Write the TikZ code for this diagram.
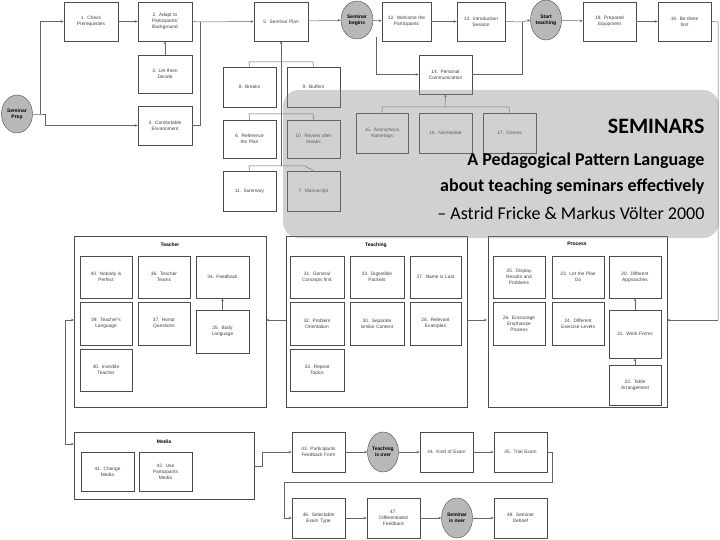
\documentclass[tikz,border=0pt]{standalone}
\usepackage{fontspec}
\setmainfont{Liberation Sans}
\newfontfamily\titlefont{Carlito}
\usetikzlibrary{arrows.meta,shapes.geometric}
\tikzset{
 box/.style={draw=black!70,line width=0.6pt,fill=white,align=center,text=black!75,font=\fontsize{4.8}{6}\selectfont,inner sep=1pt},
 grp/.style={draw=black!70,line width=0.6pt,fill=white},
 circ/.style={draw=black!70,ellipse,fill=black!28,align=center,font=\bfseries\fontsize{5}{6}\selectfont,inner sep=0pt},
 con/.style={draw=black!60,line width=0.5pt},
 arr/.style={con,-{Stealth[length=3pt,width=2.5pt]}},
 glab/.style={font=\bfseries\fontsize{5}{6}\selectfont}
}
\newcommand{\bx}[6]{\node[box,minimum width={(#4-#2)*1pt},minimum height={(#5-#3)*1pt},text width={(#4-#2-4)*1pt}] (#1) at ({(#2+#4)/2},{(#3+#5)/2}) {#6};}
\begin{document}
\begin{tikzpicture}[x=1pt,y=-1pt]
\useasboundingbox (0,0) rectangle (720,540);
\fill[white] (0,0) rectangle (720,540);
% top
\bx{b1}{64}{2}{118}{41}{1. Check\\Prerequisites}
\bx{b2}{138}{2}{192}{41}{2. Adapt to\\Participants'\\Background}
\bx{b3}{138}{55}{192}{93}{3. Let them\\Decide}
\bx{b4}{138}{106}{192}{145}{4. Comfortable\\Environment}
\bx{b5}{254}{2}{308}{41}{5. Seminar Plan}
\node[circ,minimum width=31pt,minimum height=38pt] (prep) at (17,114) {Seminar\\Prep};
\node[circ,minimum width=32pt,minimum height=38pt] (beg) at (357,20) {Seminar\\begins};
\bx{b8}{223}{67}{276}{107}{8. Breaks}
\bx{b9}{287}{67}{340}{107}{9. Buffers}
\bx{b6}{223}{120}{276}{158}{6. Reference\\the Plan}
\bx{b10}{287}{120}{340}{158}{10. Review after\\breaks}
\bx{b11}{223}{171}{276}{211}{11. Summary}
\bx{b7}{287}{171}{340}{211}{7. Manuscript}
\bx{b12}{382}{2}{431}{41}{12. Welcome the\\Participants}
\bx{b13}{457}{2}{505}{41}{13. Introduction\\Session}
\node[circ,minimum width=31pt,minimum height=40pt] (start) at (546,20) {Start\\teaching};
\bx{b18}{583}{2}{636}{41}{18. Prepared\\Equipment}
\bx{b19}{658}{2}{711}{41}{19. Be there\\first}
\bx{b14}{419}{55}{472}{94}{14. Personal\\Communication}
\bx{b15}{356}{113}{408}{153}{15. Anonymous\\Nametags}
\bx{b16}{419}{113}{472}{153}{16. Nameplate}
\bx{b17}{483}{113}{536}{153}{17. Games}
% top connectors
\draw[con] (prep.east) -- (40,114) -- (45,114);
\draw[arr] (40,114) |- (b1.west);
\draw[arr] (45,114) |- (b4.west);
\draw[arr] (b1) -- (b2);
\draw[con] (b2.east) -- (200,22);
\draw[con] (b4.east) -| (200,22);
\draw[arr] (200,22) -- (b5.west);
\draw[arr] (b3) -- (b2);
\draw[arr] (b5) -- (beg);
\draw[arr] (beg) -- (b12);
\draw[arr] (b12) -- (b13);
\draw[con] (b13.east) -- (522,22);
\draw[arr] (522,22) -- (start.west);
\draw[arr] (376,37) |- (b14.west);
\draw[con] (b14.east) -| (522,22);
\draw[arr] (start) -- (b18);
\draw[arr] (b18) -- (b19);
\draw[con] (b8.north) -- (249,62) -- (313,62) -- (b9.north);
\draw[con] (b6.north) -- (249,114) -- (313,114) -- (b10.north);
\draw[con] (b11.north) -- (249,166) -- (305,166) -- (b7.north);
\draw[arr] (281,166) -- (281,41);
\draw[con] (b15.north) -- (382,107) -- (509,107) -- (b17.north);
\draw[arr] (445,107) -- (b14.south);
% groups
\node[grp,minimum width=192pt,minimum height=171pt] (teacher) at (170,321.5) {};
\node[glab,anchor=north] at (170,239) {Teacher};
\node[grp,minimum width=181pt,minimum height=171pt] (teaching) at (376.5,321.5) {};
\node[glab,anchor=north] at (376,239) {Teaching};
\node[grp,minimum width=179pt,minimum height=171pt] (process) at (577.5,321.5) {};
\node[glab,anchor=north] at (577,239) {Process};
\bx{b40}{80}{256}{132}{298}{40. Nobody is\\Perfect}
\bx{b36}{138}{256}{190}{298}{36. Teacher\\Teams}
\bx{b34}{196}{256}{249}{298}{34. Feedback}
\bx{b39}{80}{302}{132}{345}{39. Teacher's\\Language}
\bx{b37}{138}{302}{190}{345}{37. Honor\\Questions}
\bx{b35}{196}{310}{249}{353}{35. Body\\Language}
\bx{b41}{80}{349}{132}{391}{40. Invisible\\Teacher}
\bx{b31}{290}{256}{344}{298}{31. General\\Concepts first}
\bx{b33}{350}{256}{404}{298}{33. Digestible\\Packets}
\bx{b27}{410}{256}{461}{298}{27. Name is Last}
\bx{b32}{290}{302}{344}{345}{32. Problem\\Orientation}
\bx{b30}{350}{302}{404}{345}{30. Separate\\similar Content}
\bx{b28}{410}{302}{461}{345}{28. Relevant\\Examples}
\bx{b29}{290}{349}{344}{391}{33. Repeat\\Topics}
\bx{b25}{493}{256}{545}{298}{25. Display\\Results and\\Problems}
\bx{b23}{552}{256}{604}{298}{23. Let the Plan\\Go}
\bx{b20}{609}{256}{661}{298}{20. Different\\Approaches}
\bx{b26}{493}{302}{545}{345}{26. Encourage\\Emphasize\\Process}
\bx{b24}{552}{302}{604}{345}{24. Different\\Exercise Levels}
\bx{b21}{609}{310}{661}{358}{21. Work Forms}
\bx{b22}{609}{365}{661}{405}{22. Table\\Arrangement}
\draw[arr] (b35) -- (b34);
\draw[arr] (b21) -- (b20);
\draw[arr] (b22) -- (b21);
\draw[arr] (286,320) -- (266,320);
\draw[arr] (467,320) -- (487,320);
\draw[con] (b19.east) -- (718,22) -- (718,320);
\draw[arr] (718,320) -- (667,320);
\draw[arr] (65,320) -- (74,320);
\draw[con] (65,320) -- (65,444);
% bottom
\node[grp,minimum width=180pt,minimum height=67pt] (media) at (164,465.5) {};
\node[glab,anchor=north] at (164,436) {Media};
\draw[arr] (65,444) -- (74,444);
\bx{b41m}{81}{452}{134}{491}{41. Change\\Media}
\bx{b42}{139}{452}{192}{491}{42. Use\\Participants\\Media}
\bx{b43}{292}{432}{345}{472}{43. Participants\\Feedback Form}
\node[circ,minimum width=31pt,minimum height=40pt] (tover) at (383,452) {Teaching\\is over};
\bx{b44}{420}{432}{473}{472}{44. Kind of Exam}
\bx{b45}{494}{432}{547}{472}{45. Trial Exam}
\bx{b46}{292}{498}{345}{538}{46. Selectable\\Exam Type}
\bx{b47}{367}{498}{420}{538}{47.\\Differentiated\\Feedback}
\node[circ,minimum width=31pt,minimum height=40pt] (sover) at (457,518) {Seminar\\is over};
\bx{b48}{494}{498}{547}{538}{48. Seminar\\Debrief}
\draw[con] (254,466) -- (262,466) -- (262,452);
\draw[arr] (262,452) -- (b43.west);
\draw[arr] (b43) -- (tover);
\draw[arr] (tover) -- (b44);
\draw[arr] (b44) -- (b45);
\draw[con] (b45.east) -- (552,452) -- (552,482) -- (284,482) -- (284,518);
\draw[arr] (284,518) -- (b46.west);
\draw[arr] (b46) -- (b47);
\draw[arr] (b47) -- (sover);
\draw[arr] (sover) -- (b48);
% overlay
\fill[black!45,opacity=0.4,rounded corners=16pt] (283,90) rectangle (719,238);
\node[anchor=east,font=\titlefont\bfseries\fontsize{22}{24}\selectfont] (t1) at (708,126) {SEMINARS};
\node[anchor=east,font=\titlefont\bfseries\fontsize{18}{20}\selectfont] (t2) at (708,161) {A Pedagogical Pattern Language};
\node[anchor=east,font=\titlefont\bfseries\fontsize{18}{20}\selectfont] (t3) at (708,187) {about teaching seminars effectively};
\node[anchor=east,font=\titlefont\fontsize{18}{20}\selectfont] (t4) at (708,213) {– Astrid Fricke \& Markus Völter 2000};
\end{tikzpicture}
\end{document}
